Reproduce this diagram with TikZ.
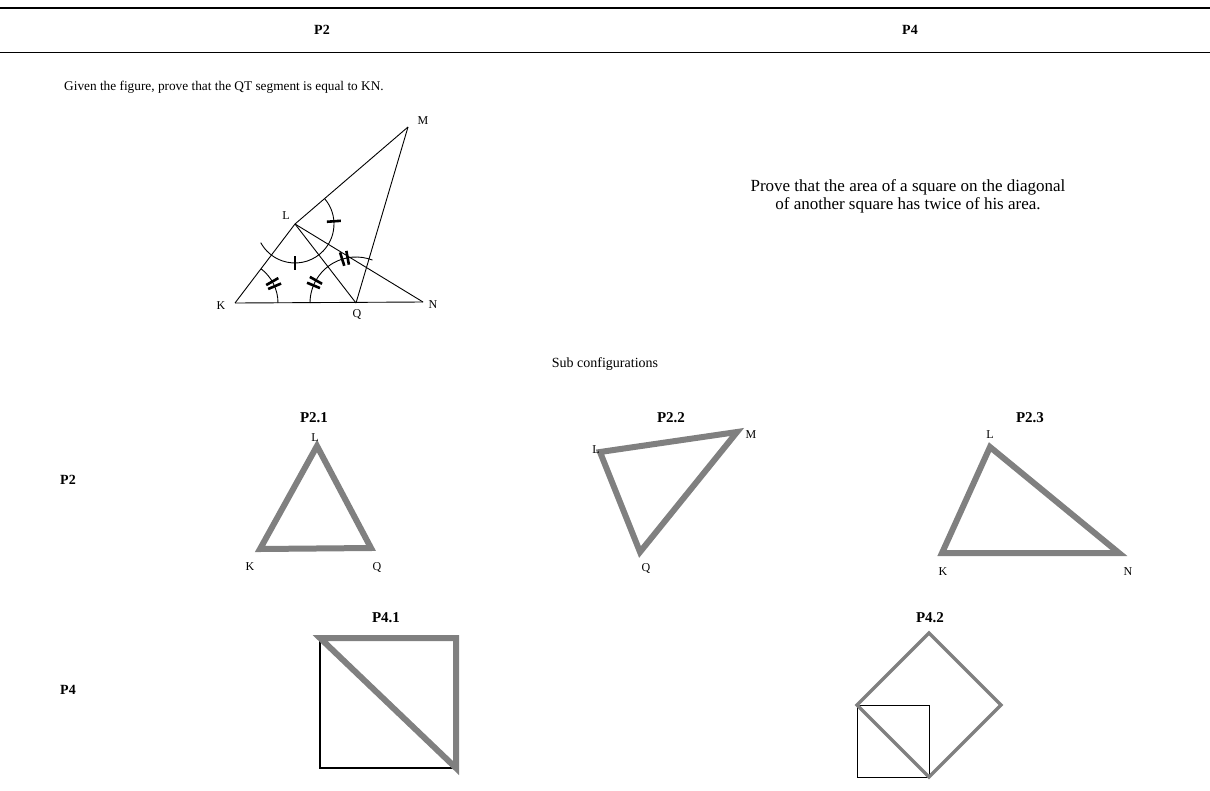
\documentclass[tikz,border=0pt]{standalone}
\usepackage{fontspec}
\setmainfont{Liberation Serif}
\usetikzlibrary{calc}
\definecolor{sg}{RGB}{128,128,128}
\newcommand\tkone[3]{\draw[tk] ($(#1)+(#2:#3-7)$) -- ($(#1)+(#2:#3+7)$);}
\newcommand\tktwo[3]{\draw[tk] ($(#1)+(#2-3.5:#3-7)$) -- ($(#1)+(#2-3.5:#3+7)$);
  \draw[tk] ($(#1)+(#2+3.5:#3-7)$) -- ($(#1)+(#2+3.5:#3+7)$);}
\begin{document}
\begin{tikzpicture}[x=1pt,y=-1pt,
  txt/.style={inner sep=0pt,font=\fontsize{14}{17}\selectfont},
  hdr/.style={inner sep=0pt,font=\fontsize{14}{17}\selectfont\bfseries},
  sub/.style={inner sep=0pt,font=\fontsize{15}{18}\selectfont\bfseries},
  vlab/.style={inner sep=0pt,font=\fontsize{12}{14}\selectfont},
  fig/.style={line width=0.9pt},
  tk/.style={line width=2.6pt},
  thickg/.style={draw=sg,line width=6pt},
  thing/.style={draw=sg,line width=3.5pt}]
\useasboundingbox (0,0) rectangle (1210,790);
% rules and header
\draw[line width=1.6pt] (0,8) -- (1210,8);
\draw[line width=0.8pt] (0,52) -- (1210,52);
\node[hdr] (h2) at (322,30) {P2};
\node[hdr] (h4) at (910,30) {P4};
\node[txt,anchor=west,font=\fontsize{13.3}{16}\selectfont] (t2) at (64,87) {Given the figure, prove that the QT segment is equal to KN.};
\node[txt,align=center,font=\fontsize{17}{18}\selectfont] (t4) at (908,196) {Prove that the area of a square on the diagonal\\of another square has twice of his area.};
% main figure
\coordinate (K) at (235,303);
\coordinate (N) at (423,302);
\coordinate (L) at (295,224);
\coordinate (Q) at (356,303);
\coordinate (M) at (408,127);
\draw[fig] (K) -- (N);
\draw[fig] (K) -- (L);
\draw[fig] (L) -- (M);
\draw[fig] (M) -- (Q);
\draw[fig] (L) -- (Q);
\draw[fig] (L) -- (N);
\draw[fig] ($(L)+(-40.6:39)$) arc[start angle=-40.6, end angle=151.5, radius=39];
\draw[fig] ($(K)+(-52.8:43)$) arc[start angle=-52.8, end angle=0, radius=43];
\draw[fig] ($(Q)+(180:46)$) arc[start angle=180, end angle=291, radius=46];
\tkone{L}{-4}{39}
\tkone{L}{90}{39}
\tktwo{K}{-26.4}{43}
\tktwo{Q}{206}{46}
\tktwo{Q}{256}{46}
\node[vlab] (lL) at (286,216) {L};
\node[vlab] (lK) at (221,306) {K};
\node[vlab] (lQ) at (357,314) {Q};
\node[vlab] (lN) at (433,305) {N};
\node[vlab] (lM) at (423,121) {M};
% sub configurations
\node[txt] (sc) at (605,364) {Sub configurations};
\node[hdr] (r2) at (68,480) {P2};
\node[hdr] (r4) at (68,690) {P4};
\node[sub] (s21) at (314,418) {P2.1};
\node[sub] (s22) at (671,418) {P2.2};
\node[sub] (s23) at (1030,418) {P2.3};
\node[sub] (s41) at (386,618) {P4.1};
\node[sub] (s42) at (930,618) {P4.2};
% P2.1
\coordinate (aL) at (317,446);
\coordinate (aK) at (260,549);
\coordinate (aQ) at (371,548);
\draw[thickg] (aL) -- (aK) -- (aQ) -- cycle;
\node[vlab] (laL) at (315,438) {L};
\node[vlab] (laK) at (250,567) {K};
\node[vlab] (laQ) at (377,567) {Q};
% P2.2
\coordinate (bL) at (600,452);
\coordinate (bM) at (737,432);
\coordinate (bQ) at (640,552);
\draw[thickg] (bL) -- (bM) -- (bQ) -- cycle;
\node[vlab] (lbL) at (596,450) {L};
\node[vlab] (lbM) at (751,435) {M};
\node[vlab] (lbQ) at (646,568) {Q};
% P2.3
\coordinate (cL) at (990,447);
\coordinate (cK) at (942,553);
\coordinate (cN) at (1119,553);
\draw[thickg] (cL) -- (cK) -- (cN) -- cycle;
\node[vlab] (lcL) at (990,435) {L};
\node[vlab] (lcK) at (943,572) {K};
\node[vlab] (lcN) at (1128,572) {N};
% P4.1
\draw[line width=1.2pt] (320,638) rectangle (456,768);
\draw[thickg] (320,638) -- (456,638) -- (456,768) -- cycle;
% P4.2
\draw[line width=0.9pt] (857,705) rectangle (929,777);
\draw[thing] (857,705) -- (929,633) -- (1001,705) -- (929,777) -- cycle;
\end{tikzpicture}
\end{document}
